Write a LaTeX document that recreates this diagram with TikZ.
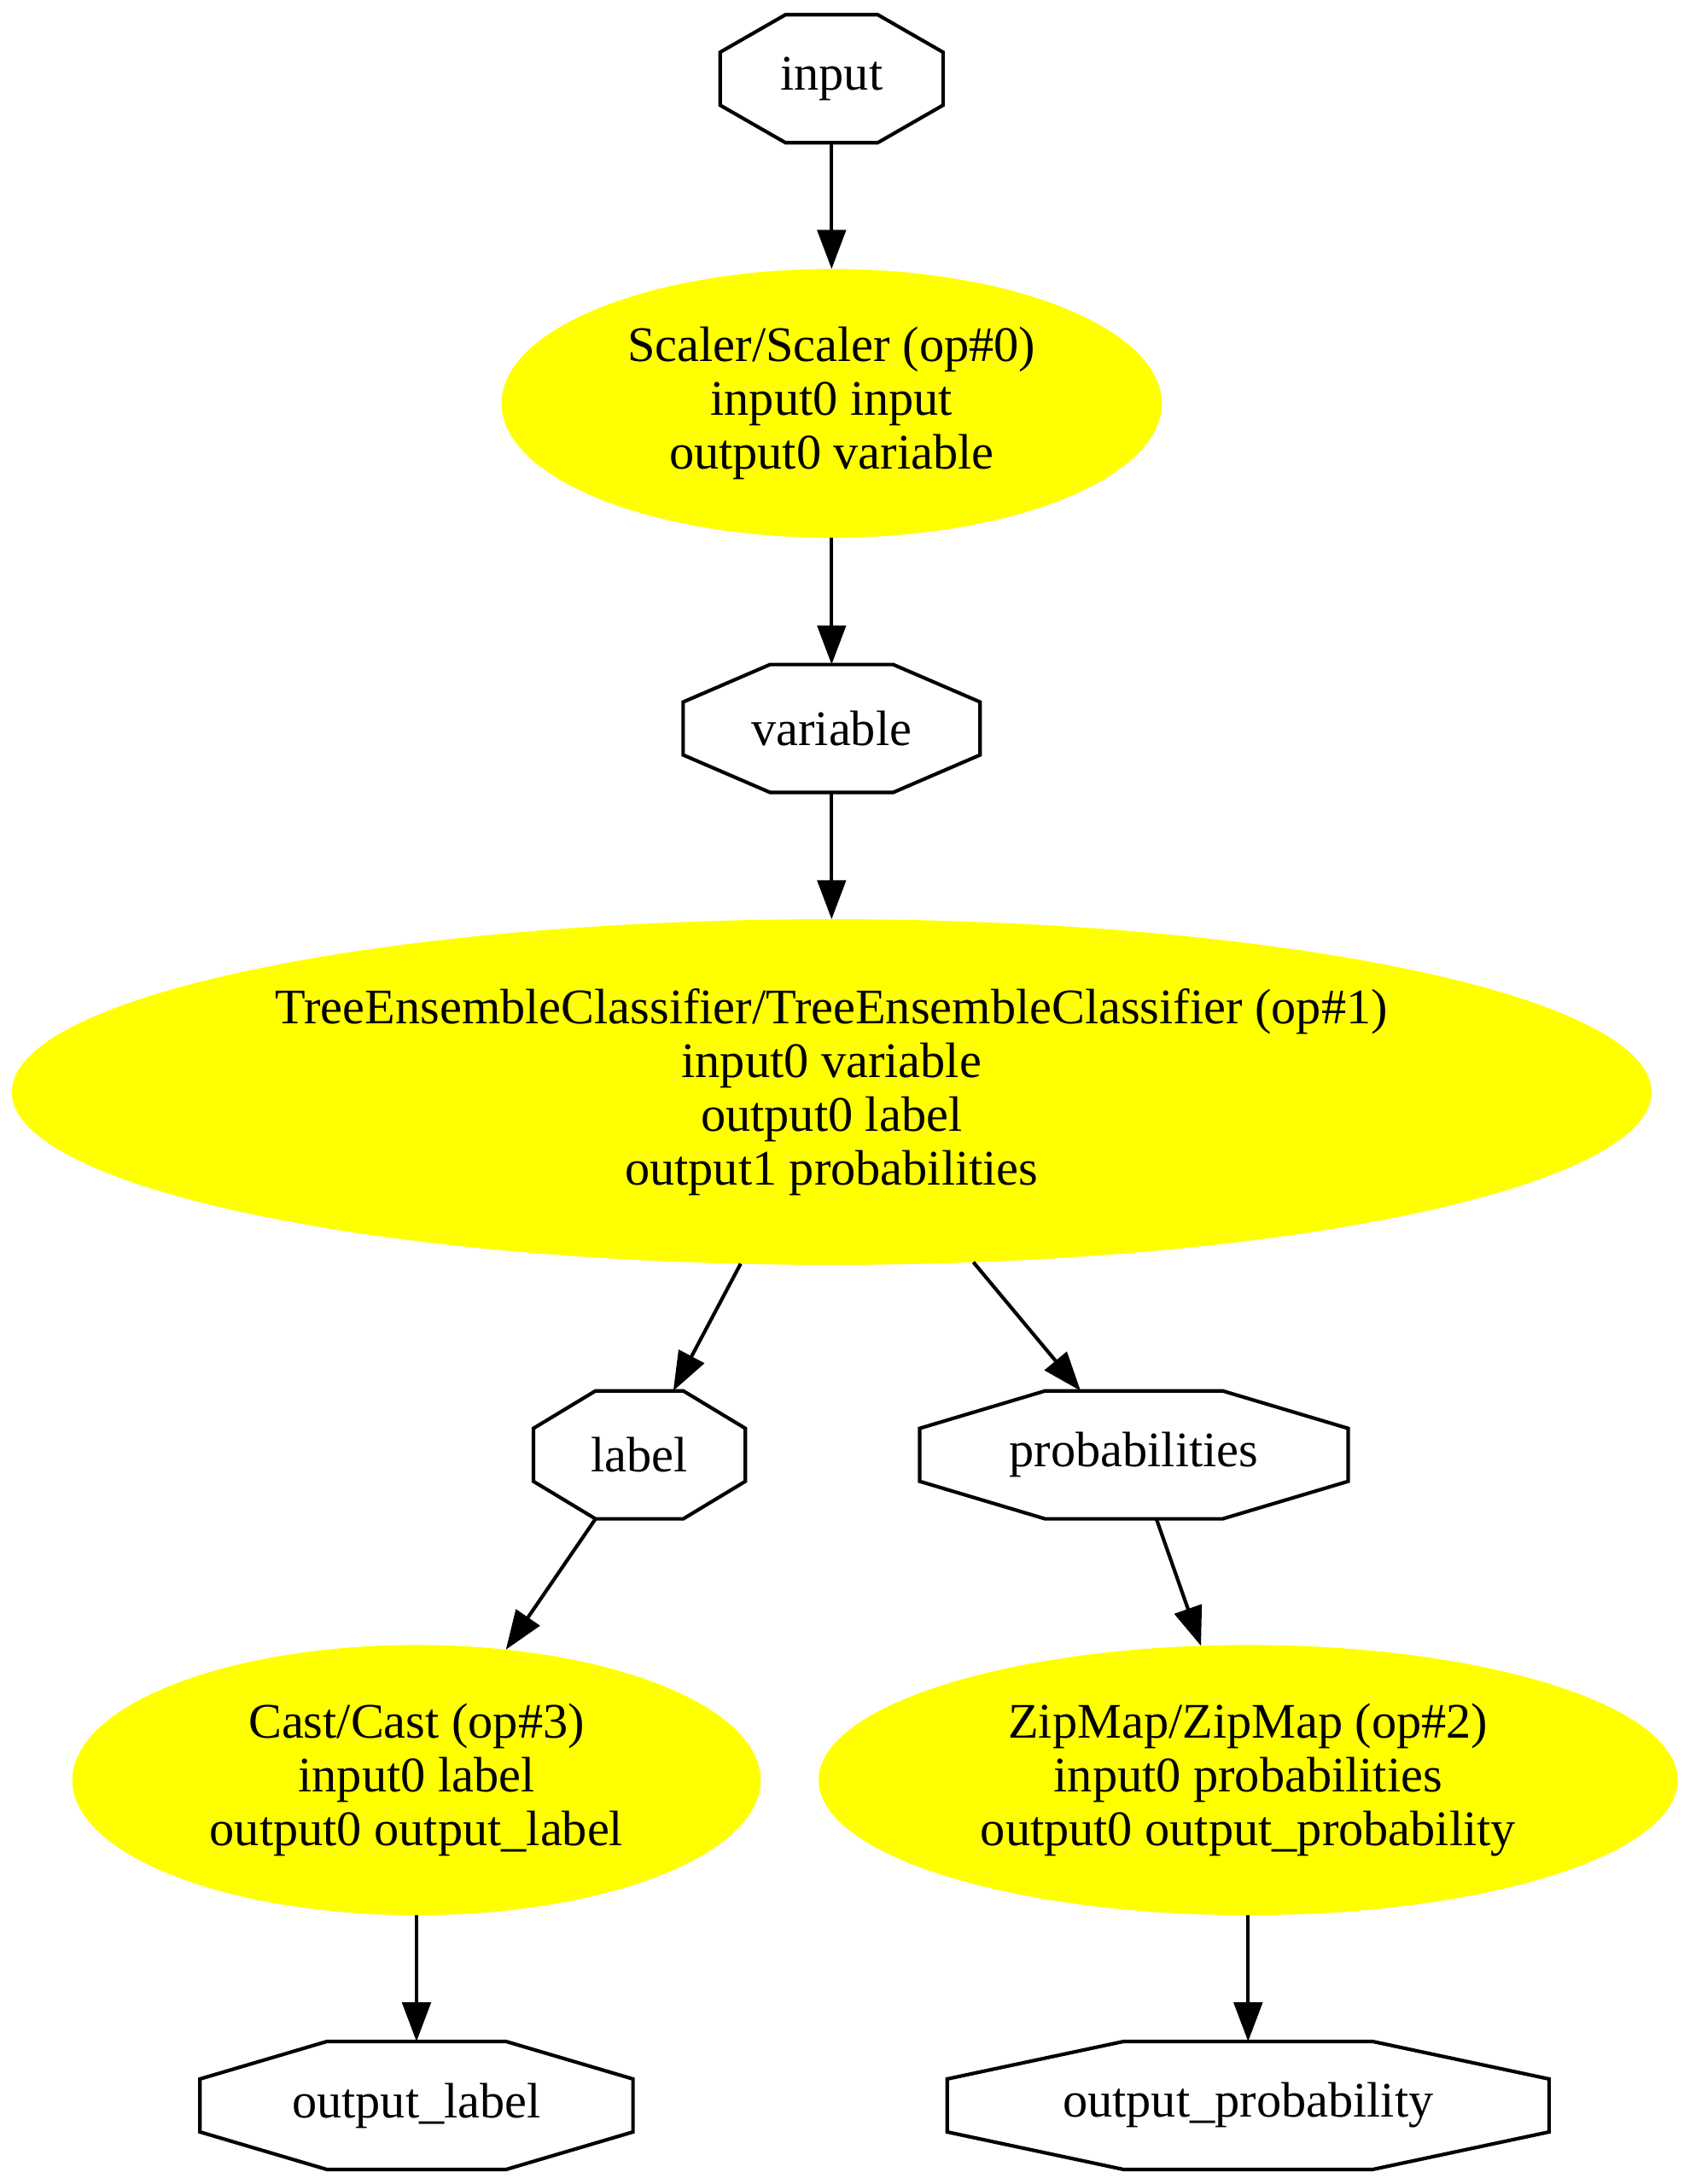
\documentclass[tikz,border=0pt]{standalone}
\usepackage{fontspec}
\setmainfont{Liberation Serif}
\usepackage{tikz}
\usetikzlibrary{arrows.meta}
\usetikzlibrary{shapes.geometric}
\usetikzlibrary{calc}

\definecolor{opyellow}{RGB}{255,255,0}

\tikzset{
  var/.style={rectangle, inner sep=0pt, outer sep=0pt, minimum height=36pt},
  op/.style={ellipse, fill=opyellow, inner sep=0pt, outer sep=0pt, align=center},
  edge/.style={-{Triangle[length=11pt,width=8pt]}, line width=1pt},
}

\begin{document}
\begin{tikzpicture}[x=0.3918pt, y=-0.3918pt, font=\fontsize{14}{15.1}\selectfont]
		\useasboundingbox (0,0) rectangle (1213,1568);

		\node[var, minimum width=62.7pt] (input) at (597,56.5) {input};
		\node[op, minimum width=185.7pt, minimum height=75.6pt] (scaler) at (597,289.6) {Scaler/Scaler (op\#0)\\input0 input\\output0 variable};
		\node[var, minimum width=83.5pt] (variable) at (597,523) {variable};
		\node[op, minimum width=461.2pt, minimum height=97.2pt] (tree) at (597,784) {TreeEnsembleClassifier/TreeEnsembleClassifier (op\#1)\\input0 variable\\output0 label\\output1 probabilities};
		\node[var, minimum width=59.6pt] (label) at (459,1044.5) {label};
		\node[var, minimum width=120.5pt] (probs) at (814,1044.5) {probabilities};
		\node[op, minimum width=193.6pt, minimum height=76pt] (cast) at (299,1278) {Cast/Cast (op\#3)\\input0 label\\output0 output\_label};
		\node[op, minimum width=241.6pt, minimum height=76pt] (zipmap) at (896,1278) {ZipMap/ZipMap (op\#2)\\input0 probabilities\\output0 output\_probability};
		\node[var, minimum width=121.8pt] (outlabel) at (299,1511.6) {output\_label};
		\node[var, minimum width=169.3pt] (outprob) at (896,1511.6) {output\_probability};

		\foreach \n in {input,variable,label,probs,outlabel,outprob}
			\draw[line width=1pt, line join=miter]
				($(\n.north west)!.293!(\n.north east)$) -- ($(\n.north west)!.707!(\n.north east)$)
				-- ($(\n.north east)!.293!(\n.south east)$) -- ($(\n.north east)!.707!(\n.south east)$)
				-- ($(\n.south east)!.293!(\n.south west)$) -- ($(\n.south east)!.707!(\n.south west)$)
				-- ($(\n.south west)!.293!(\n.north west)$) -- ($(\n.south west)!.707!(\n.north west)$)
				-- cycle;

		\draw[edge] (input) -- (scaler);
		\draw[edge] (scaler) -- (variable);
		\draw[edge] (variable) -- (tree);
		\draw[edge] (tree) -- (label);
		\draw[edge] (tree) -- (probs);
		\draw[edge] (label) -- (cast);
		\draw[edge] (probs) -- (zipmap);
		\draw[edge] (cast) -- (outlabel);
		\draw[edge] (zipmap) -- (outprob);
\end{tikzpicture}
\end{document}
